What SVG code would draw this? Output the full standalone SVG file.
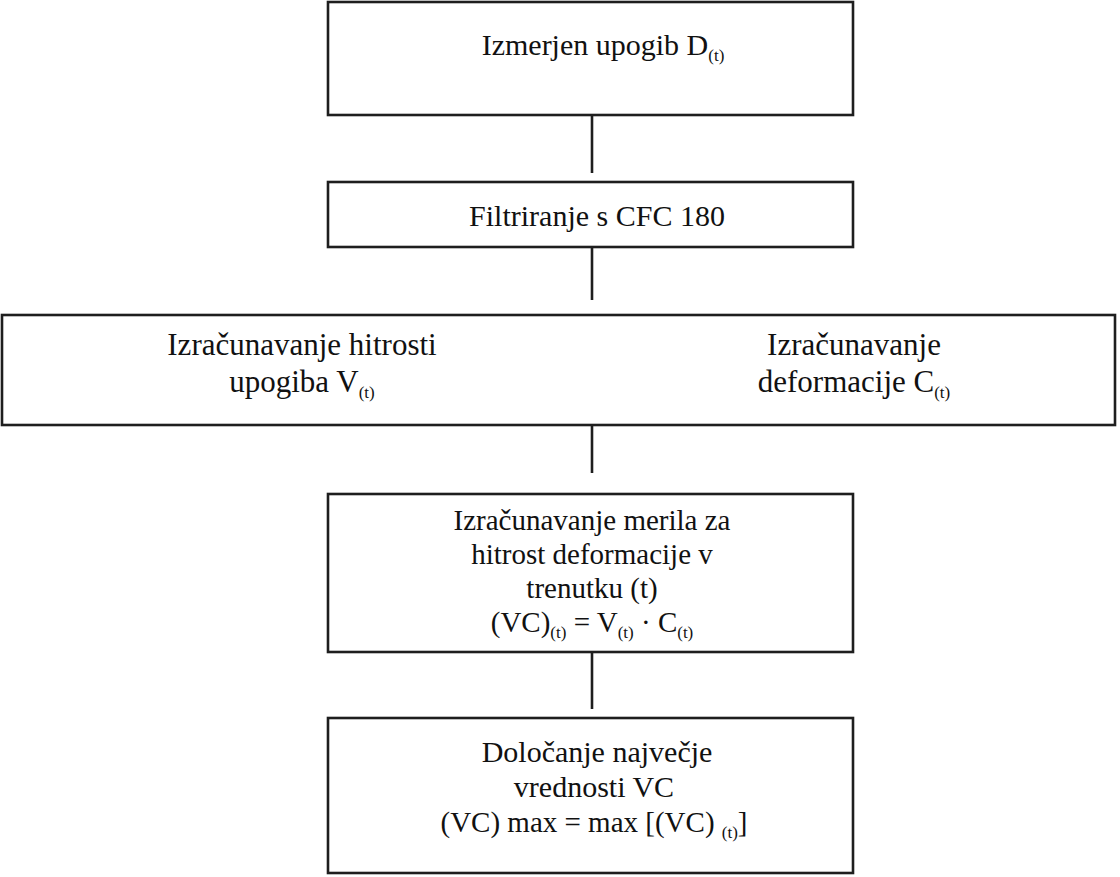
<svg xmlns="http://www.w3.org/2000/svg" width="1120" height="877" viewBox="0 0 1120 877">
<style>
.box{fill:#fff;stroke:#1e1e1e;stroke-width:2.6}
.con{stroke:#1e1e1e;stroke-width:2.6;fill:none}
text{font-family:"Liberation Serif","Times New Roman",serif;font-size:29px;fill:#111;text-anchor:middle}
.l{font-size:30px}
.w{font-size:31px}
.s{font-size:17px}
</style>
<rect width="1120" height="877" fill="#fff"/>
<g id="connectors">
<line class="con" x1="592" y1="115" x2="592" y2="173"/>
<line class="con" x1="592" y1="247" x2="592" y2="300"/>
<line class="con" x1="592" y1="319" x2="592" y2="473"/>
<line class="con" x1="592" y1="652" x2="592" y2="709"/>
</g>
<g id="n1">
<rect class="box" x="328" y="2" width="525" height="113"/>
<text class="l" x="603" y="55">Izmerjen upogib D<tspan class="s" dy="6">(t)</tspan></text>
</g>
<g id="n2">
<rect class="box" x="328" y="182" width="525" height="65"/>
<text class="l" x="597" y="226">Filtriranje s CFC 180</text>
</g>
<g id="n3">
<rect class="box" x="2" y="315" width="1113" height="110"/>
<text class="w" x="302" y="355">Izračunavanje hitrosti</text>
<text class="w" x="302" y="392">upogiba V<tspan class="s" dy="6">(t)</tspan></text>
<text class="w" x="854" y="355">Izračunavanje</text>
<text class="w" x="854" y="392">deformacije C<tspan class="s" dy="6">(t)</tspan></text>
</g>
<g id="n4">
<rect class="box" x="328" y="494" width="525" height="158"/>
<text x="592" y="530">Izračunavanje merila za</text>
<text x="592" y="564">hitrost deformacije v</text>
<text x="592" y="598">trenutku (t)</text>
<text x="592" y="632">(VC)<tspan class="s" dy="6">(t)</tspan><tspan dy="-6"> = V</tspan><tspan class="s" dy="6">(t)</tspan><tspan dy="-6"> · C</tspan><tspan class="s" dy="6">(t)</tspan></text>
</g>
<g id="n5">
<rect class="box" x="328" y="718" width="525" height="155"/>
<text class="l" x="597" y="762">Določanje največje</text>
<text class="l" x="594" y="797">vrednosti VC</text>
<text x="594" y="832">(VC) max = max [(VC) <tspan class="s" dy="6">(t)</tspan><tspan dy="-6">]</tspan></text>
</g>
</svg>
